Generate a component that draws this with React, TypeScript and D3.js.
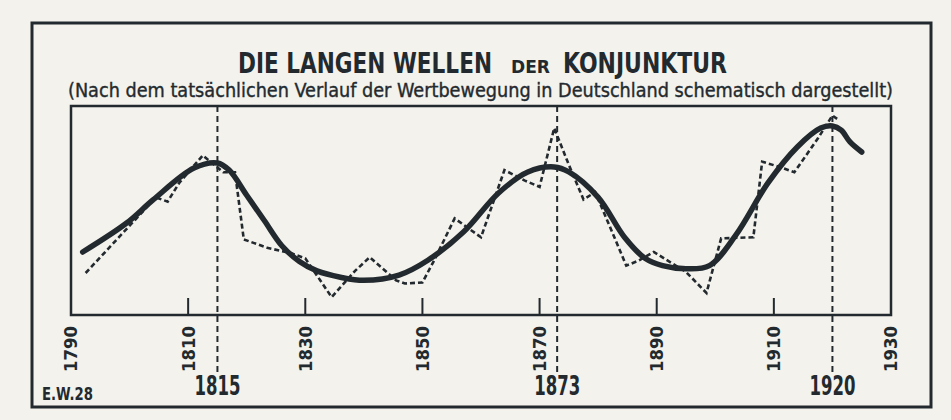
import React from 'react';
import * as d3 from 'd3';

// years on the axis, and the three turning points
const axisYears = [1790, 1810, 1830, 1850, 1870, 1890, 1910, 1930];
const turningYears = [1815, 1873, 1920];

// smoothed long wave (solid)
const smoothYears = [1792, 1799.5, 1804, 1811, 1815, 1817, 1820, 1823, 1826, 1829, 1832, 1836, 1840, 1846, 1851, 1857, 1863, 1868, 1872.5, 1875, 1880, 1884.5, 1888, 1891, 1895, 1899, 1903.5, 1909, 1914, 1918, 1920, 1921.5, 1923, 1925];
const smoothValues = [30, 43.8, 54.8, 70, 72.4, 69, 57, 45, 33, 25.5, 21, 18, 16.5, 19, 26.2, 39.5, 58.1, 68.1, 70.5, 68.1, 56, 37, 27, 23.5, 22, 23.5, 38, 62.9, 80, 89, 90, 88, 82.4, 77.6];

// actual price movement (dashed)
const actualYears = [1792.5, 1804.5, 1806.5, 1808.5, 1812.5, 1816, 1818, 1819.5, 1823.5, 1827.5, 1830, 1834.5, 1838.5, 1841, 1845.5, 1847, 1850, 1852, 1855.5, 1860, 1862, 1864, 1867.5, 1870, 1872.5, 1875, 1877.5, 1879.5, 1883, 1884.8, 1887, 1889.5, 1895, 1898.5, 1901, 1906.5, 1908, 1911, 1913.5, 1917.5, 1920, 1921];
const actualValues = [20, 56, 54, 63, 76, 68, 68, 36, 32, 29.5, 27, 8.5, 21, 27.5, 16.5, 15, 15.5, 26, 46, 37, 53, 69, 64, 61, 89, 71.5, 55, 58.5, 35.5, 23.5, 26, 30, 20.5, 10.5, 36.5, 37, 73, 70.5, 68, 84, 95, 93];

const W = 951;
const H = 420;
const INK = '#232a2f';
const PAPER = '#f3f2ec';
const FONT = '"DejaVu Sans Condensed", "Liberation Sans Narrow", "Roboto", sans-serif';

const plot = {left: 71, right: 891, top: 106, bottom: 315};

export default function App() {
    const x = d3.scaleLinear().domain([1790, 1930]).range([plot.left, plot.right]);
    const y = d3.scaleLinear().domain([0, 100]).range([plot.bottom, plot.top - 1]);

    const smoothLine = d3.line<number>()
        .x((d, i) => x(smoothYears[i]))
        .y(d => y(d))
        .curve(d3.curveCatmullRom.alpha(0.5));

    const actualLine = d3.line<number>()
        .x((d, i) => x(actualYears[i]))
        .y(d => y(d))
        .curve(d3.curveLinear);

    return (
        <svg width={W} height={H} style={{position: 'absolute', left: 0, top: 0, display: 'block'}}>
            <rect x={0} y={0} width={W} height={H} fill={PAPER}/>

            {/* outer frame */}
            <rect x={32} y={23} width={899} height={384} fill="none" stroke={INK} strokeWidth={3}/>

            {/* title, "der" set in small caps; stretched upright to look condensed */}
            <g transform="translate(0,73) scale(1,1.15)" fill={INK} fontFamily={FONT} fontWeight="bold">
                <text x={238} y={0} fontSize={24} textLength={254} lengthAdjust="spacingAndGlyphs">DIE LANGEN WELLEN</text>
                <text x={511} y={0} fontSize={16} textLength={39} lengthAdjust="spacingAndGlyphs">DER</text>
                <text x={563} y={0} fontSize={24} textLength={164} lengthAdjust="spacingAndGlyphs">KONJUNKTUR</text>
            </g>
            <text x={68} y={97} fill={INK} fontFamily={FONT} fontSize={19} textLength={825}
                  lengthAdjust="spacingAndGlyphs" stroke={INK} strokeWidth={0.35}>
                (Nach dem tatsächlichen Verlauf der Wertbewegung in Deutschland schematisch dargestellt)
            </text>

            {/* inner plot frame */}
            <rect x={plot.left} y={plot.top} width={plot.right - plot.left} height={plot.bottom - plot.top}
                  fill="none" stroke={INK} strokeWidth={2.5}/>

            {/* ticks inside the bottom edge */}
            {axisYears.slice(1, -1).map(yr => (
                <line key={'t' + yr} x1={x(yr)} x2={x(yr)} y1={plot.bottom - 17} y2={plot.bottom}
                      stroke={INK} strokeWidth={2}/>
            ))}

            {/* turning point markers */}
            {turningYears.map(yr => (
                <g key={'m' + yr}>
                    <line x1={x(yr)} x2={x(yr)} y1={plot.top} y2={372} stroke={INK} strokeWidth={2}
                          strokeDasharray="6,4"/>
                    <text x={x(yr)} y={395} textAnchor="middle" fill={INK} fontFamily={FONT} fontWeight="bold"
                          fontSize={26} textLength={46} lengthAdjust="spacingAndGlyphs">{yr}</text>
                </g>
            ))}

            {/* rotated year labels */}
            {axisYears.map(yr => (
                <text key={'l' + yr} transform={`translate(${x(yr)},372) rotate(-90)`} dy="0.36em"
                      fill={INK} fontFamily={FONT} fontWeight="bold" fontSize={18}
                      textLength={46} lengthAdjust="spacingAndGlyphs">{yr}</text>
            ))}

            {/* data */}
            <path d={actualLine(actualValues) || ''} fill="none" stroke={INK} strokeWidth={2.6}
                  strokeDasharray="5,3"/>
            <path d={smoothLine(smoothValues) || ''} fill="none" stroke={INK} strokeWidth={5.5}
                  strokeLinecap="round" strokeLinejoin="round"/>

            <text x={42} y={400} fill={INK} fontFamily={FONT} fontWeight="bold" fontSize={17}
                  textLength={51} lengthAdjust="spacingAndGlyphs">E.W.28</text>
        </svg>
    );
}
